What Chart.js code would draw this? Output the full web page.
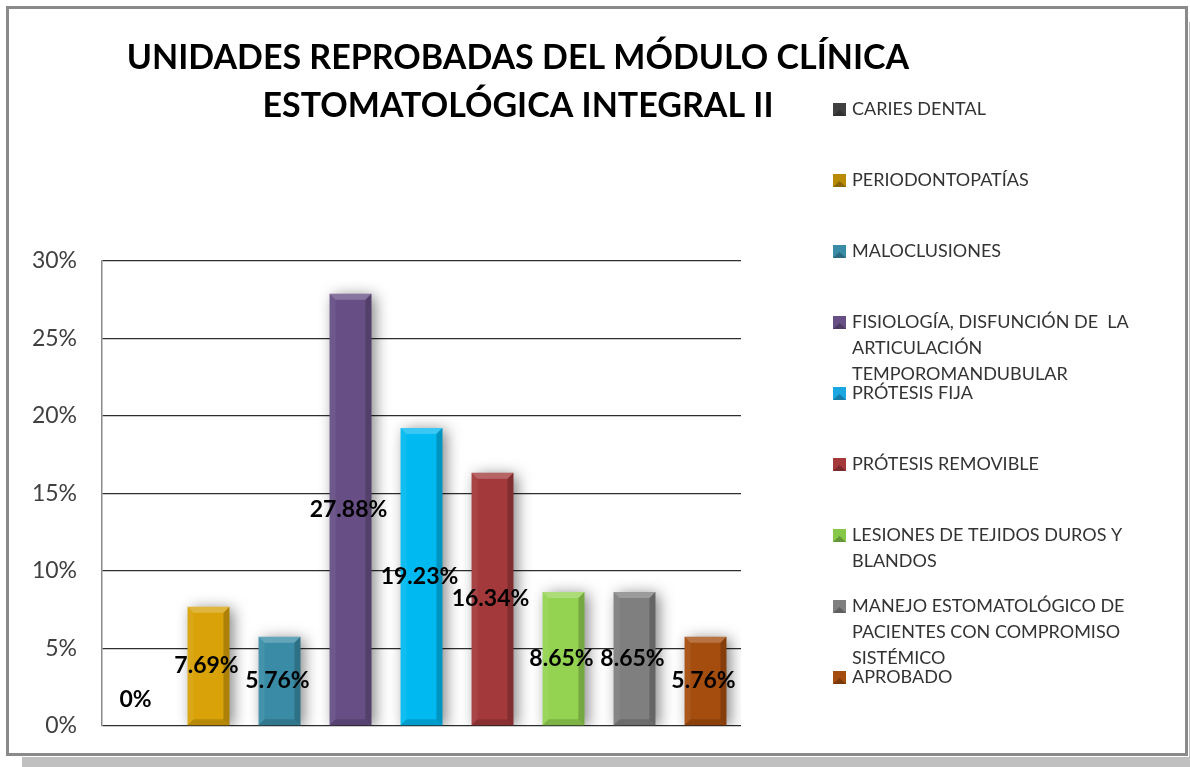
<!DOCTYPE html>
<html lang="es">
<head>
<meta charset="UTF-8">
<title>Unidades reprobadas</title>
<script src="https://cdn.jsdelivr.net/npm/chart.js"></script>
<style>
  body { margin: 0; background: #fff; }
  canvas { display: block; }
</style>
</head>
<body>
<canvas id="chart" width="1190" height="767"></canvas>
<script>
// data
const categories = [
  'CARIES DENTAL',
  'PERIODONTOPATÍAS',
  'MALOCLUSIONES',
  'FISIOLOGÍA, DISFUNCIÓN DE  LA ARTICULACIÓN TEMPOROMANDUBULAR',
  'PRÓTESIS FIJA',
  'PRÓTESIS REMOVIBLE',
  'LESIONES DE TEJIDOS DUROS Y BLANDOS',
  'MANEJO ESTOMATOLÓGICO DE PACIENTES CON COMPROMISO SISTÉMICO',
  'APROBADO'
];
const values = [0, 7.69, 5.76, 27.88, 19.23, 16.34, 8.65, 8.65, 5.76];
const valueLabels = ['0%', '7.69%', '5.76%', '27.88%', '19.23%', '16.34%', '8.65%', '8.65%', '5.76%'];
const yTicks = [0, 5, 10, 15, 20, 25, 30];
const titleLines = ['UNIDADES REPROBADAS DEL MÓDULO CLÍNICA', 'ESTOMATOLÓGICA INTEGRAL II'];

const colors = ['#404040', '#D8A208', '#3A8CA6', '#674F85', '#00B9F0', '#A3393B', '#94D352', '#7F7F7F', '#A54D0E'];
const legendColors = ['#404040', '#B88A06', '#3A8CA6', '#674F85', '#1AA6E0', '#A3393B', '#86C84A', '#7F7F7F', '#A54D0E'];

const FONT = 'Lato, "Open Sans", sans-serif';

// frame + shadow behind everything
const framePlugin = {
  id: 'frame',
  beforeDraw(chart) {
    const c = chart.ctx;
    c.save();
    c.fillStyle = '#c0c0c0';
    c.fillRect(22, 757, 1168, 10);
    c.fillRect(1189, 22, 1, 745);
    c.strokeStyle = '#8a8a8a';
    c.lineWidth = 3;
    c.strokeRect(7.5, 7.5, 1179, 747);
    c.restore();
  }
};

// title drawn in the top-left block
const titlePlugin = {
  id: 'bigTitle',
  afterDraw(chart) {
    const c = chart.ctx;
    c.save();
    c.fillStyle = '#000';
    c.font = 'bold 34px ' + FONT;
    c.textAlign = 'center';
    c.textBaseline = 'middle';
    c.fillText(titleLines[0], 518, 58);
    c.fillText(titleLines[1], 518, 106);
    c.restore();
  }
};

// soft shadow under bars, bevelled edges on top
const bevelPlugin = {
  id: 'bevel',
  beforeDatasetsDraw(chart) {
    const c = chart.ctx;
    c.save();
    c.shadowColor = 'rgba(0,0,0,0.5)';
    c.shadowBlur = 14;
    c.shadowOffsetX = 4;
    c.shadowOffsetY = 2;
  },
  afterDatasetsDraw(chart) {
    const c = chart.ctx;
    c.restore();
    const meta = chart.getDatasetMeta(0);
    const b = 6;
    meta.data.forEach(el => {
      const p = el.getProps(['x', 'y', 'base', 'width'], true);
      const l = p.x - p.width / 2, r = p.x + p.width / 2, t = p.y, bt = p.base;
      if (bt - t < 2 * b) return;
      const quad = (pts, fill) => {
        c.beginPath();
        c.moveTo(pts[0][0], pts[0][1]);
        for (let i = 1; i < pts.length; i++) c.lineTo(pts[i][0], pts[i][1]);
        c.closePath();
        c.fillStyle = fill;
        c.fill();
      };
      c.save();
      quad([[l, t], [r, t], [r - b, t + b], [l + b, t + b]], 'rgba(255,255,255,0.22)');
      quad([[r, t], [r, bt], [r - b, bt - b], [r - b, t + b]], 'rgba(0,0,0,0.2)');
      quad([[l, bt], [r, bt], [r - b, bt - b], [l + b, bt - b]], 'rgba(0,0,0,0.15)');
      quad([[l, t], [l + b, t + b], [l + b, bt - b], [l, bt]], 'rgba(255,255,255,0.06)');
      c.restore();
    });
  }
};

// value labels in the middle of each bar
const valueLabelPlugin = {
  id: 'valueLabels',
  afterDraw(chart) {
    const c = chart.ctx;
    const meta = chart.getDatasetMeta(0);
    c.save();
    c.font = 'bold 23px ' + FONT;
    c.fillStyle = '#000';
    c.textAlign = 'center';
    c.textBaseline = 'middle';
    meta.data.forEach((el, i) => {
      const p = el.getProps(['x', 'y', 'base'], true);
      let y = (p.y + p.base) / 2;
      y = Math.min(y, p.base - 26);
      c.fillText(valueLabels[i], p.x - 2, y);
    });
    c.restore();
  }
};

function wrap(c, text, maxW) {
  const words = text.split(' ');
  const lines = [];
  let cur = '';
  words.forEach(w => {
    const test = cur === '' ? w : cur + ' ' + w;
    if (c.measureText(test).width > maxW && cur !== '') {
      lines.push(cur);
      cur = w;
    } else {
      cur = test;
    }
  });
  if (cur) lines.push(cur);
  return lines;
}

// legend on the right, with wrapped text
const sideLegend = {
  id: 'sideLegend',
  afterDraw(chart) {
    const c = chart.ctx;
    c.save();
    c.font = '18px ' + FONT;
    c.textBaseline = 'middle';
    c.textAlign = 'left';
    categories.forEach((name, i) => {
      const y0 = 109 + i * 71;
      c.fillStyle = legendColors[i];
      c.fillRect(833, y0 - 6, 13, 13);
      c.fillStyle = 'rgba(0,0,0,0.25)';
      c.beginPath();
      c.moveTo(833, y0 + 7); c.lineTo(839.5, y0 + 1); c.lineTo(846, y0 + 7);
      c.closePath(); c.fill();
      c.fillStyle = '#333';
      const lines = wrap(c, name, 292);
      lines.forEach((ln, k) => c.fillText(ln, 852, y0 + k * 26));
    });
    c.restore();
  }
};

new Chart(document.getElementById('chart'), {
  type: 'bar',
  data: {
    labels: categories,
    datasets: [{
      data: values,
      backgroundColor: colors,
      borderWidth: 0,
      barPercentage: 0.59,
      categoryPercentage: 1
    }]
  },
  options: {
    responsive: false,
    animation: false,
    layout: { padding: { left: 0, top: 261, right: 449, bottom: 41 } },
    scales: {
      x: { display: false },
      y: {
        min: 0,
        max: 30,
        afterBuildTicks: s => { s.ticks = yTicks.map(v => ({ value: v })); },
        afterFit: s => { s.width = 102; },
        ticks: {
          callback: v => v + '%',
          font: { family: FONT, size: 23 },
          color: '#404040',
          padding: 25
        },
        grid: { color: '#2e2e2e', lineWidth: 1.3, drawTicks: false },
        border: { color: '#8a8a8a', width: 1.5 }
      }
    },
    plugins: {
      legend: { display: false },
      tooltip: { enabled: false }
    }
  },
  plugins: [framePlugin, bevelPlugin, valueLabelPlugin, sideLegend, titlePlugin]
});
</script>
</body>
</html>
